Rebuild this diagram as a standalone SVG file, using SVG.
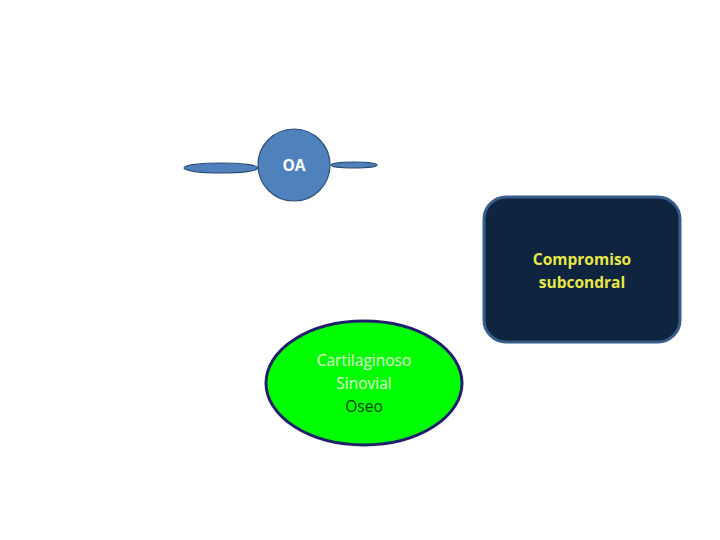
<svg xmlns="http://www.w3.org/2000/svg" width="720" height="540" viewBox="0 0 720 540">
<style>
.t{font-family:"Open Sans","Liberation Sans",sans-serif;font-size:15.5px;text-anchor:middle}
.blue{fill:#4f81bd;stroke:#2c4d75;stroke-width:1.2}
</style>
<rect width="720" height="540" fill="#fff"/>
<g id="connectors">
<ellipse class="blue" cx="221" cy="168" rx="37" ry="5"/>
<ellipse class="blue" cx="354" cy="165" rx="23" ry="3"/>
</g>
<g id="oa">
<circle class="blue" cx="294" cy="165" r="36"/>
<text class="t" x="294" y="171" fill="#fff" font-weight="bold" font-size="15">OA</text>
</g>
<g id="compromiso">
<rect x="484" y="197" width="196" height="145" rx="22" fill="#0f243e" stroke="#385d8a" stroke-width="3"/>
<text class="t" x="582" y="265" fill="#e8e84a" font-weight="bold" font-size="15">Compromiso</text>
<text class="t" x="582" y="288" fill="#e8e84a" font-weight="bold" font-size="15">subcondral</text>
</g>
<g id="tipos">
<ellipse cx="364" cy="383" rx="98" ry="62" fill="#00ff00" stroke="#1f1f6b" stroke-width="3"/>
<text class="t" x="364" y="366" fill="#e0ffd8">Cartilaginoso</text>
<text class="t" x="364" y="389" fill="#e0ffd8">Sinovial</text>
<text class="t" x="364" y="412" fill="#004000">Oseo</text>
</g>
</svg>
